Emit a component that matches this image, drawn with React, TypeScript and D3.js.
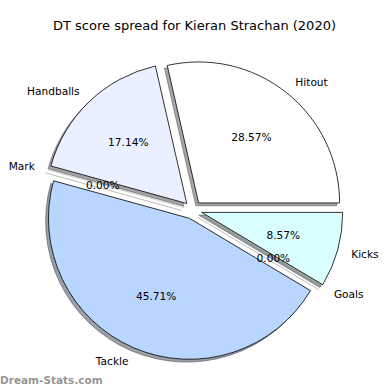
import React from "react";
import * as d3 from "d3";

const categories = ["Hitout", "Handballs", "Mark", "Tackle", "Goals", "Kicks"];
const values = [10, 6, 0, 16, 0, 3];
const colors = ["#ffffff", "#eaf0ff", "#dde8ff", "#b8d6ff", "#c8f0ff", "#d9ffff"];
const title = "DT score spread for Kieran Strachan (2020)";
const watermark = "Dream-Stats.com";

const W = 390;
const H = 390;
const cx = 193;
const cy = 210;
const R = 141;
const explode = 0.064;

export default function App() {
  const total = d3.sum(values);
  const pie = d3
    .pie<number>()
    .sort(null)
    .value((d) => d)
    .startAngle(Math.PI / 2)
    .endAngle(Math.PI / 2 - 2 * Math.PI);
  const arcs = pie(values);
  const arc = d3.arc<d3.PieArcDatum<number>>().innerRadius(0).outerRadius(R);
  const shadowOff = 0.02 * R;

  const shade = (c: string) => {
    const rgb = d3.rgb(c);
    return d3.rgb(rgb.r * 0.3, rgb.g * 0.3, rgb.b * 0.3).formatHex();
  };

  return (
    <svg
      width={W}
      height={H}
      style={{ position: "absolute", left: 0, top: 0, background: "#fff" }}
      fontFamily="DejaVu Sans"
    >
      <rect width={W} height={H} fill="#fff" />
      <text x={W / 2 - 0.5} y={25} textAnchor="middle" dominantBaseline="central" fontSize={13} fill="#000">
        {title}
      </text>
      {arcs.map((a, i) => {
        const mid = (a.startAngle + a.endAngle) / 2;
        const ux = Math.sin(mid);
        const uy = -Math.cos(mid);
        const ox = cx + ux * explode * R;
        const oy = cy + uy * explode * R;
        const zero = values[i] === 0;
        return (
          <g key={categories[i]}>
            {zero ? (
              <>
                <line
                  x1={ox - shadowOff}
                  y1={oy + shadowOff}
                  x2={ox - shadowOff + ux * R}
                  y2={oy + shadowOff + uy * R}
                  stroke="#bdbdbd"
                  strokeWidth={1}
                />
                <line x1={ox} y1={oy} x2={ox + ux * R} y2={oy + uy * R} stroke="#d0d0d0" strokeWidth={1} />
              </>
            ) : (
              <>
                <path
                  d={arc(a) || ""}
                  transform={`translate(${ox - shadowOff},${oy + shadowOff})`}
                  fill={shade(colors[i])}
                  fillOpacity={0.5}
                  stroke={shade(colors[i])}
                  strokeOpacity={0.5}
                  strokeWidth={1}
                />
                <path
                  d={arc(a) || ""}
                  transform={`translate(${ox},${oy})`}
                  fill={colors[i]}
                  stroke="#000"
                  strokeWidth={0.8}
                  strokeLinejoin="round"
                />
              </>
            )}
          </g>
        );
      })}
      {arcs.map((a, i) => {
        const mid = (a.startAngle + a.endAngle) / 2;
        const ux = Math.sin(mid);
        const uy = -Math.cos(mid);
        const ox = cx + ux * explode * R;
        const oy = cy + uy * explode * R;
        const lx = ox + ux * 1.1 * R;
        const ly = oy + uy * 1.1 * R;
        const px = ox + ux * 0.6 * R;
        const py = oy + uy * 0.6 * R;
        const pct = ((values[i] / total) * 100).toFixed(2) + "%";
        return (
          <g key={"t" + categories[i]}>
            <text
              x={lx}
              y={ly}
              textAnchor={ux > 0 ? "start" : "end"}
              dominantBaseline="central"
              fontSize={10.6}
              fill="#000"
            >
              {categories[i]}
            </text>
            <text x={px} y={py} textAnchor="middle" dominantBaseline="central" fontSize={10.6} fill="#000">
              {pct}
            </text>
          </g>
        );
      })}
      <text x={0} y={380} dominantBaseline="central" fontSize={10.5} fontWeight="bold" fill="#888" fillOpacity={0.9}>
        {watermark}
      </text>
    </svg>
  );
}
